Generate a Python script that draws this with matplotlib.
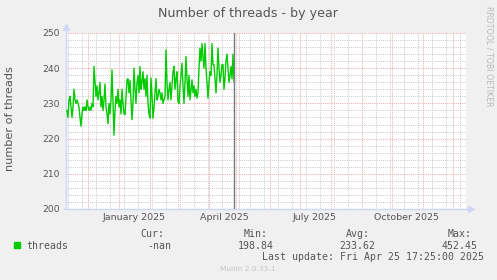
import datetime as dt
import matplotlib
matplotlib.use("Agg")
import matplotlib.pyplot as plt
import matplotlib.dates as mdates
from matplotlib.ticker import MultipleLocator
from matplotlib.patches import Rectangle
from matplotlib.transforms import blended_transform_factory

# ---------------- data ----------------
start_date = dt.datetime(2024, 11, 10)
threads = [
    228, 226, 231, 232, 229, 226, 229, 234, 231, 230, 231, 230, 229, 226, 223.5,
    227, 229, 228, 229, 228, 231, 229, 228, 229, 228, 230, 229, 240.5, 236, 232,
    235, 231, 233, 236, 229, 232, 228, 231, 235.5, 229, 227, 224.3, 230, 227, 231,
    239.5, 230, 221, 228, 232, 230, 234, 229, 231, 227, 234, 230, 227, 226.8, 232,
    236.7, 237, 233, 236.5, 231, 225.4, 230, 240, 234, 230, 236, 238, 233, 240.5,
    234, 236, 239, 234, 237, 232, 238, 230, 227, 225.8, 237.2, 232, 225.8, 229, 233,
    237, 231, 232, 234, 233, 231, 233, 230, 231, 232, 245.2, 236, 231, 234, 236,
    231, 235, 239, 240.5, 234, 237, 239, 230.5, 230, 235, 238, 241.4, 235, 230, 236,
    243.3, 237, 232, 238, 231, 234, 236.7, 233, 235, 232, 234, 231.5, 233, 240, 245.7,
    242, 247, 243, 240, 247, 240, 236, 231.5, 236, 239, 238, 247, 241, 241, 237,
    233, 238, 245.7, 240, 236, 238, 241, 241, 234, 237, 242, 244, 240, 236, 238,
    240.5, 237, 244, 236.2,
]
dates = [start_date + dt.timedelta(days=i) for i in range(len(threads))]

x_start = dt.datetime(2024, 11, 9)
x_end = dt.datetime(2025, 12, 14)
y_min, y_max = 200, 250
x_label_text = ["January 2025", "April 2025", "July 2025", "October 2025"]
x_label_month = [dt.datetime(2025, 1, 1), dt.datetime(2025, 4, 1),
                 dt.datetime(2025, 7, 1), dt.datetime(2025, 10, 1)]
now_time = dt.datetime(2025, 4, 25, 17, 25)

series_name = "threads"
stat_names = ["Cur:", "Min:", "Avg:", "Max:"]
stat_values = ["-nan", "198.84", "233.62", "452.45"]
last_update = "Last update: Fri Apr 25 17:25:00 2025"
title = "Number of threads - by year"
ylabel = "number of threads"

# ---------------- style ----------------
W, H = 497, 280
BG = "#F0F0F0"
FONT = "#555555"
AXIS = "#CFD6F8"
LINE = "#00CC00"
MGRID = "#F2A3A3"
GRID = "#C8C8C8"
MONO = "DejaVu Sans Mono"

fig = plt.figure(figsize=(W / 100, H / 100), dpi=100, facecolor=BG)
L, R, T, B = 66, 466, 33, 209
ax = fig.add_axes([L / W, 1 - B / H, (R - L) / W, (B - T) / H])
ax.set_facecolor("white")
for s in ax.spines.values():
    s.set_visible(False)

ax.set_xlim(x_start, x_end)
ax.set_ylim(y_min, y_max)

ax.yaxis.set_major_locator(MultipleLocator(10))
ax.yaxis.set_minor_locator(MultipleLocator(2))
ax.xaxis.set_major_locator(mdates.MonthLocator())
ax.xaxis.set_minor_locator(mdates.WeekdayLocator(byweekday=mdates.MO, interval=2))

dots = (0, (1, 1.2))
ax.grid(which="minor", color=GRID, lw=0.7, ls=dots, zorder=0)
ax.grid(which="major", color=MGRID, lw=0.7, ls=dots, zorder=0.5)
ax.set_axisbelow(True)

ax.tick_params(which="both", length=0)
ax.tick_params(axis="y", labelsize=6.6, labelcolor=FONT, pad=4.4)
ax.set_xticklabels([])
ax.tick_params(axis="x", labelbottom=False)

# custom x labels (centred mid-month)
trans = blended_transform_factory(ax.transData, ax.transAxes)
for txt, m in zip(x_label_text, x_label_month):
    ax.text(m + dt.timedelta(days=15), -3.5 / (B - T), txt, transform=trans,
            ha="center", va="top", fontsize=6.8, color=FONT)

# axis lines with arrows
ax.plot([0, 0], [0, 1.03], transform=ax.transAxes, color=AXIS, lw=1, clip_on=False, zorder=3)
ax.plot([-0.005, 1.01], [0, 0], transform=ax.transAxes, color=AXIS, lw=1, clip_on=False, zorder=3)
ax.plot([0], [1.035], marker="^", ms=4, color=AXIS, transform=ax.transAxes, clip_on=False, zorder=3)
ax.plot([1.012], [0], marker=">", ms=4, color=AXIS, transform=ax.transAxes, clip_on=False, zorder=3)

# data
ax.plot(dates, threads, color=LINE, lw=1.0, zorder=4)
ax.axvline(now_time, color="#7A7A7A", lw=1.0, zorder=5)

# texts
fig.text(248 / W, 1 - 13 / H, title, ha="center", va="center", fontsize=9.1, color=FONT)
fig.text(10 / W, 1 - 119 / H, ylabel, ha="center", va="center", rotation=90,
         fontsize=8.1, color=FONT)
fig.text(488.5 / W, 1 - 56 / H, "RRDTOOL / TOBI OETIKER", ha="center", va="center",
         rotation=270, fontsize=5.7, color="#BBBBBB")
fig.text(248 / W, 1 - 269 / H, "Munin 2.0.33-1", ha="center", va="center",
         fontsize=5.3, color="#C4C4C4")

# legend
fig.patches.append(Rectangle((14 / W, 1 - 247.5 / H), 6 / W, 6 / H,
                             transform=fig.transFigure, color=LINE, figure=fig))
fig.text(26.7 / W, 1 - 249 / H, series_name, ha="left", va="baseline",
         fontsize=7.15, color=FONT, family=MONO)
name_x = [140.7, 244.0, 346.0, 447.7]
val_x = [147.3, 237.3, 339.3, 441.7]
for nx, vx, n, v in zip(name_x, val_x, stat_names, stat_values):
    fig.text(nx / W, 1 - 237 / H, n, ha="left", va="baseline", fontsize=7.15,
             color=FONT, family=MONO)
    fig.text(vx / W, 1 - 249 / H, v, ha="left", va="baseline", fontsize=7.15,
             color=FONT, family=MONO)
fig.text(261.7 / W, 1 - 260 / H, last_update, ha="left", va="baseline",
         fontsize=7.15, color=FONT, family=MONO)

fig.savefig("out.png", dpi=100, facecolor=BG)
